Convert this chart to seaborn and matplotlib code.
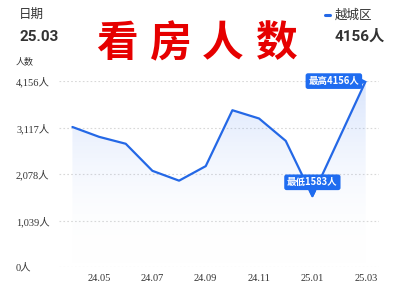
import numpy as np
import pandas as pd
import matplotlib
matplotlib.use("Agg")
import matplotlib.pyplot as plt
import matplotlib.transforms as mtransforms
from matplotlib.colors import LinearSegmentedColormap
import seaborn as sns

# monthly viewing counts for 越城区
months = ["24.04", "24.05", "24.06", "24.07", "24.08", "24.09",
          "24.10", "24.11", "24.12", "25.01", "25.02", "25.03"]
visitors = [3130, 2910, 2755, 2150, 1930, 2255, 3505, 3320, 2820, 1583, 2870, 4156]
y_ticks = [0, 1039, 2078, 3117, 4156]
y_tick_labels = ["0人", "1,039人", "2,078人", "3,117人", "4,156人"]
title_chars = ["看", "房", "人", "数"]
series_name = "越城区"

sns.set_theme(style="white")
plt.rcParams["font.family"] = ["Noto Sans CJK SC", "DejaVu Sans"]

BLUE = "#2468e6"
BOX = "#1f6cf0"
DARK = "#333333"

df = pd.DataFrame({"idx": np.arange(len(months)), "month": months, "value": visitors})

fig = plt.figure(figsize=(3.94, 2.96), dpi=100)
ax = fig.add_axes([0.150, 0.098, 0.812, 0.628])

sns.lineplot(data=df, x="idx", y="value", color=BLUE, linewidth=1.6, ax=ax, zorder=3)

# gradient fill under the line
fill = ax.fill_between(df["idx"], df["value"], 0, color="none", lw=0)
grad = np.linspace(0, 1, 256).reshape(-1, 1)
cmap = LinearSegmentedColormap.from_list(
    "fade", [(1, 1, 1, 0.0), (0.16, 0.42, 0.94, 0.18)])
img = ax.imshow(grad, aspect="auto", cmap=cmap, origin="lower",
                extent=[df["idx"].min(), df["idx"].max(), 0, y_ticks[-1]],
                zorder=1)
img.set_clip_path(fill.get_paths()[0], transform=ax.transData)
ax.set_xlim(-0.5, len(months) - 0.5)
ax.set_ylim(0, y_ticks[-1])

# axes styling
for s in ax.spines.values():
    s.set_visible(False)
ax.set_yticks(y_ticks)
ax.set_yticklabels(y_tick_labels, ha="left",
                   family=["Liberation Serif", "Noto Sans CJK SC"], fontsize=7.5,
                   color=DARK)
ax.tick_params(axis="y", length=0, pad=31)
ax.set_xticks(df["idx"][1::2])
ax.set_xticklabels(df["month"][1::2], family=["Liberation Serif"], fontsize=7.5,
                   color=DARK)
ax.tick_params(axis="x", length=0, pad=5)
ax.set_xlabel("")
ax.set_ylabel("")
for yv in y_ticks:
    ax.axhline(yv, xmin=0, xmax=1, color="#d8d8d8", lw=0.8,
               ls=(0, (1.5, 2)), zorder=0)

# max / min callouts
imax = int(np.argmax(visitors))
imin = int(np.argmin(visitors))
lab_font = dict(color="white", fontsize=6.8, fontweight="bold",
                family=["Noto Sans CJK SC", "DejaVu Sans"])
ax.annotate(f"最高{visitors[imax]}人", xy=(imax, visitors[imax]),
            xytext=(-4.6, 0), textcoords="offset points", ha="right",
            va="center", zorder=6,
            bbox=dict(boxstyle="round,pad=0.3,rounding_size=0.25",
                      fc=BOX, ec="none"), **lab_font)
ax.annotate(f"最低{visitors[imin]}人", xy=(imin, visitors[imin]),
            xytext=(0, 10), textcoords="offset points", ha="center",
            va="center", zorder=6,
            bbox=dict(boxstyle="round,pad=0.3,rounding_size=0.25",
                      fc=BOX, ec="none"), **lab_font)
tr_left = mtransforms.offset_copy(ax.transData, fig=fig, x=-2.4, y=0, units="points")
ax.plot([imax], [visitors[imax]], marker=">", ms=4.5, color=BOX,
        transform=tr_left, zorder=6, clip_on=False)
tr_up = mtransforms.offset_copy(ax.transData, fig=fig, x=0, y=2.6, units="points")
ax.plot([imin], [visitors[imin]], marker="v", ms=4.5, color=BOX,
        transform=tr_up, zorder=6, clip_on=False)

# header
W, H = 394, 296
def fx(px):
    return px / W
def fy(py):
    return 1 - py / H

fig.text(fx(19), fy(14), "日期", fontsize=9, color=DARK, va="center", ha="left")
fig.text(fx(20), fy(37), months[-1], fontsize=11, fontweight="bold",
         family=["Roboto", "DejaVu Sans"], color=DARK, va="center", ha="left")
fig.text(fx(16), fy(62), "人数", fontsize=6.5, color=DARK, va="center", ha="left")

for cx, ch in zip([117, 171, 223, 276], title_chars):
    fig.text(fx(cx), fy(44), ch, fontsize=30, fontweight=900,
             color="#e60000", ha="center", va="center")

fig.text(fx(335), fy(15), series_name, fontsize=9, color=DARK, va="center", ha="left")
fig.add_artist(plt.Line2D([fx(325), fx(329.5)], [fy(15), fy(15)],
                          color=BLUE, lw=2.2, transform=fig.transFigure))
fig.text(fx(335), fy(37), f"{visitors[-1]}人", fontsize=11, fontweight="bold",
         family=["Roboto", "Noto Sans CJK SC"], color=DARK, va="center", ha="left")

fig.savefig("out.png", dpi=100)
